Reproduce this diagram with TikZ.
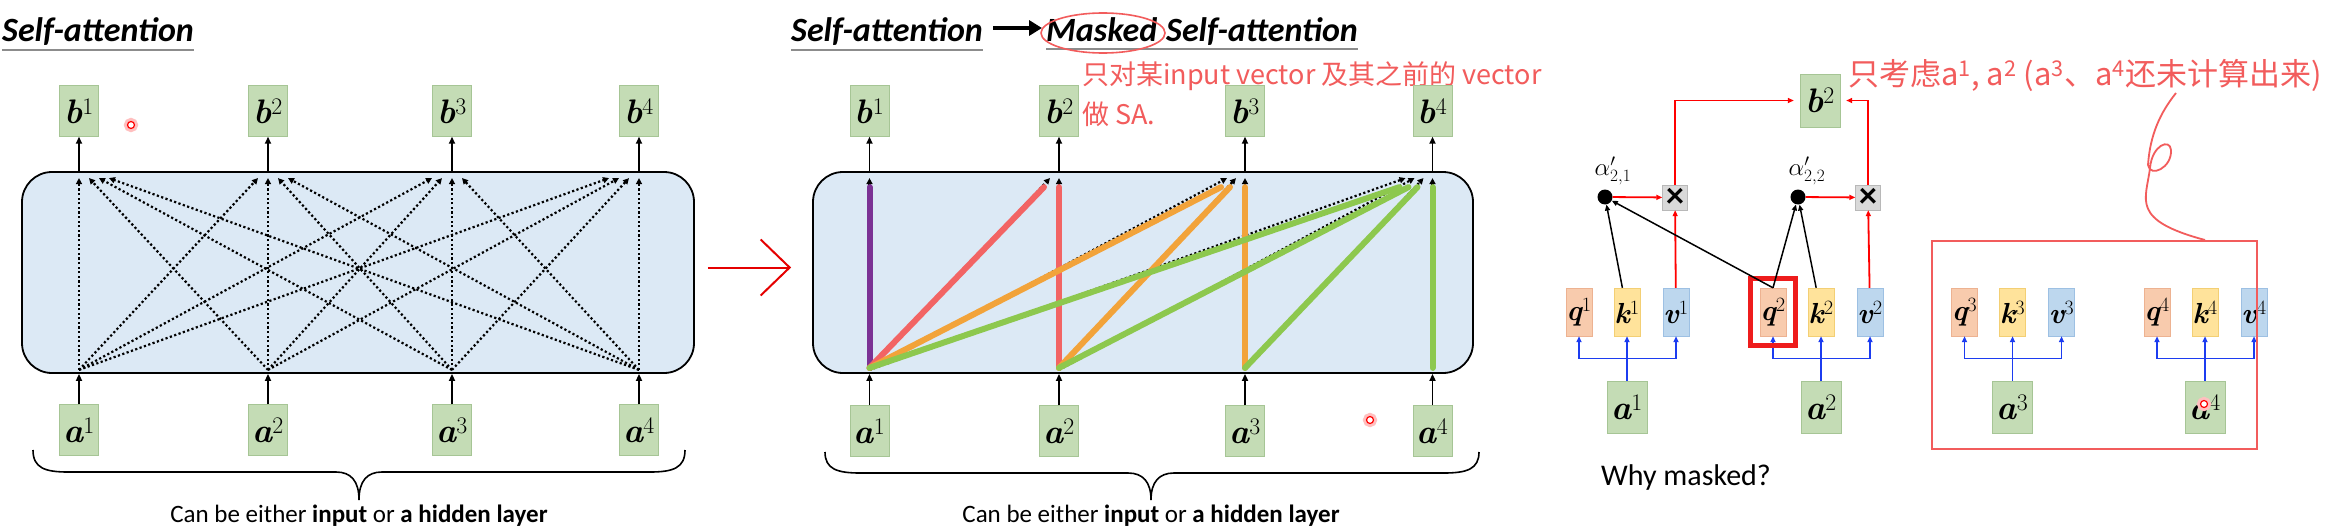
\documentclass[tikz,border=0pt]{standalone}
\usepackage{fontspec}
\setmainfont{Carlito}
\newfontfamily\lmr{Latin Modern Roman}
\newfontfamily\cjk{Noto Sans CJK SC}
\newcommand{\vname}[2]{{\lmr\bfseries\itshape #1}\textsuperscript{\lmr #2}}
\usetikzlibrary{positioning,arrows.meta,fit,calc}
\definecolor{vecgreen}{HTML}{C4DCB5}
\definecolor{vecedge}{HTML}{A6C595}
\definecolor{layerfill}{HTML}{DCE9F5}
\definecolor{qfill}{HTML}{F8CBAD}
\definecolor{qedge}{HTML}{EDB291}
\definecolor{kfill}{HTML}{FFE39B}
\definecolor{kedge}{HTML}{F3CF74}
\definecolor{vfill}{HTML}{BDD7EE}
\definecolor{vedge}{HTML}{9DC0E3}
\definecolor{mulgray}{HTML}{D9D9D9}
\definecolor{pen}{HTML}{F25C5C}
\definecolor{hotred}{HTML}{EE1C1C}
\definecolor{wireblue}{HTML}{1C3CF0}
\definecolor{attnpurple}{HTML}{7B3294}
\definecolor{attnred}{HTML}{F26464}
\definecolor{attnorange}{HTML}{F2A33A}
\definecolor{attngreen}{HTML}{8DC84E}

\begin{document}
\begin{tikzpicture}[x=1pt, y=-1pt,
    >={Triangle[length=7pt,width=6pt]},
    vec/.style={draw=vecedge, fill=vecgreen, minimum width=39pt, minimum height=51pt,
                inner sep=0pt, font=\fontsize{34}{36}\selectfont},
    qkv/.style={draw=#1edge, fill=#1fill, minimum width=26pt, minimum height=48pt,
                inner sep=0pt, font=\fontsize{29}{30}\selectfont},
    layerbox/.style={draw, line width=1.8pt, fill=layerfill, rounded corners=30pt,
                  minimum height=201pt},
    heading/.style={font=\fontsize{34}{38}\selectfont\bfseries\itshape, inner sep=0pt},
    headrule/.style={draw=black!45, line width=1.5pt},
    feed/.style={->, line width=1.8pt},
    attn/.style={->, line width=2.2pt, dash pattern=on 2.2pt off 2.4pt,
                 >={Triangle[length=6pt,width=6pt]}},
    masked/.style={line width=6pt, line cap=round, draw=#1},
    wire/.style={draw=wireblue, line width=1.8pt, >={Triangle[length=6pt,width=5pt]}},
    redwire/.style={draw=red, line width=1.8pt, >={Triangle[length=6pt,width=5pt]}},
    scorearrow/.style={draw=black, line width=1.5pt, >={Triangle[length=6pt,width=5pt]}},
    scoredot/.style={circle, fill=black, minimum size=15pt, inner sep=0pt},
    mul/.style={draw=mulgray!85!black, fill=mulgray, minimum size=25pt, inner sep=0pt,
                font=\fontsize{36}{36}\selectfont\bfseries},
    penote/.style={text=pen, font=\cjk\fontsize{27}{40}\selectfont, inner sep=0pt, align=left},
    captext/.style={font=\fontsize{25}{28}\selectfont, inner sep=0pt},
    alphatext/.style={font=\fontsize{26}{28}\selectfont, inner sep=0pt},
    pointer/.style={circle, draw=red, line width=1.2pt, fill=white, minimum size=7pt,
                    inner sep=0pt, preaction={draw=red!25, line width=7pt}},
  ]
  \path[use as bounding box, fill=white] (0,0) rectangle (2327,530);

  % ---------- left: self-attention ----------
  \node[heading, anchor=base west] (titleL) at (2,41) {Self-attention};
  \draw[headrule] ([yshift=-9pt]titleL.base west) -- ([yshift=-9pt]titleL.base east);
  \node[layerbox, minimum width=672pt] (layL) at (358,272.5) {};
  \foreach \i/\x in {1/79,2/268,3/452,4/639}{
    \node[vec] (bL\i) at (\x,111) {\vname{b}{\i}};
    \node[vec] (aL\i) at (\x,430) {\vname{a}{\i}};
    \draw[feed] (aL\i) -- (aL\i |- layL.south);
    \draw[feed] (bL\i |- layL.north) -- (bL\i);
    \coordinate (srcL\i) at ([yshift=4pt]aL\i |- layL.south);
    \coordinate (tgtL\i) at ([yshift=-7pt]bL\i |- layL.north);
  }
  \foreach \i in {1,...,4}
    \foreach \j in {1,...,4}{
      \pgfmathsetmacro\off{(\i-\j)*10}
      \draw[attn] (srcL\i) -- ([xshift=\off pt]tgtL\j);
    }
  \draw[line width=1.6pt] (33,450) .. controls (33,468) and (45,472) .. (68,472) -- (336,472)
    .. controls (351,472) and (359,481) .. (359,500) .. controls (359,481) and (367,472) .. (382,472)
    -- (650,472) .. controls (673,472) and (685,468) .. (685,450);
  \node[captext] (capL) at (359,516) {Can be either \textbf{input} or \textbf{a hidden layer}};
  \node[pointer] (dotL) at (131,125) {};

  % ---------- middle: masked self-attention ----------
  \node[heading, anchor=base west] (titleM) at (791,41) {Self-attention};
  \draw[headrule] ([yshift=-9pt]titleM.base west) -- ([yshift=-9pt]titleM.base east);
  \node[heading, anchor=base west] (maskedM) at (1046,41) {Masked};
  \node[heading, anchor=base west] (saM) at (1166,41) {Self-attention};
  \draw[headrule] ([yshift=-8pt]maskedM.base west) -- ([yshift=-8pt]saM.base east);
  \draw[line width=4pt, -{Triangle[length=13pt,width=15pt]}]
    ([xshift=10pt,yshift=13pt]titleM.base east) -- ([xshift=-4pt,yshift=13pt]maskedM.base west);
  \draw[pen, line width=1.6pt] (1103,33) ellipse [x radius=62pt, y radius=20pt];
  \node[penote, anchor=north west] (noteM) at (1082,61) {只对某input vector 及其之前的 vector\\做 SA.};

  \node[layerbox, minimum width=660pt] (layM) at (1143,272.5) {};
  \foreach \i/\x in {1/869.5,2/1059,3/1245,4/1432.5}{
    \node[vec] (bM\i) at (\x,111) {\vname{b}{\i}};
    \node[vec] (aM\i) at (\x,431) {\vname{a}{\i}};
    \draw[feed] (aM\i) -- (aM\i |- layM.south);
    \draw[feed] (bM\i |- layM.north) -- (bM\i);
    \coordinate (srcM\i) at ([yshift=4pt]aM\i |- layM.south);
    \coordinate (tgtM\i) at ([yshift=-7pt]bM\i |- layM.north);
  }
  \foreach \j in {1,...,4}
    \foreach \i in {1,...,\j}{
      \pgfmathsetmacro\off{(\i-\j)*9}
      \draw[attn] (srcM\i) -- ([xshift=\off pt]tgtM\j);
    }
  % only earlier inputs reach each output
  \foreach \j/\c in {1/attnpurple,2/attnred,3/attnorange,4/attngreen}
    \foreach \i in {1,...,\j}{
      \pgfmathsetmacro\off{(\i-\j)*9-(\i<\j)*6}
      \draw[masked=\c] ([yshift=2pt]srcM\i) -- ([xshift=\off pt,yshift=-9pt]tgtM\j);
    }
  \draw[line width=1.6pt] (825,452) .. controls (825,469) and (837,473) .. (860,473) -- (1128,473)
    .. controls (1143,473) and (1151,482) .. (1151,500) .. controls (1151,482) and (1159,473) .. (1174,473)
    -- (1444,473) .. controls (1467,473) and (1479,469) .. (1479,452);
  \node[captext] (capM) at (1151,516) {Can be either \textbf{input} or \textbf{a hidden layer}};
  \node[pointer] (dotM) at (1370,420) {};

  % hand-drawn arrow to the masked version
  \draw[draw=red!90!black, line width=2pt, -{Straight Barb[length=29pt,width=56pt]}]
    ([xshift=13pt,yshift=5pt]layL.east) -- ([xshift=-21pt,yshift=5pt]layM.west);

  % ---------- right: computing b2 only ----------
  \foreach \n/\x in {1/1579,2/1773,3/1964.5,4/2157}{
    \node[qkv=q] (q\n) at (\x,312) {\vname{q}{\n}};
    \node[qkv=k] (k\n) at (\x+48,312) {\vname{k}{\n}};
    \node[qkv=v] (v\n) at (\x+97,312) {\vname{v}{\n}};
    \node[vec, minimum width=40pt, minimum height=52pt] (aR\n) at (\x+48,407) {\vname{a}{\n}};
    \coordinate (bus\n) at ($(k\n.south)!0.5!(aR\n.north)$);
    \draw[wire, ->] (aR\n) -- (k\n);
    \draw[wire, ->] (bus\n) -| (q\n);
    \draw[wire, ->] (bus\n) -| (v\n);
  }
  \node[draw=hotred, line width=5pt, fit=(q2), inner sep=9pt] (pick) {};
  \node[vec, minimum width=40pt, minimum height=53pt] (bR) at (1820,100.5) {\vname{b}{2}};
  \node[scoredot] (w21) at (1605,197) {};
  \node[scoredot] (w22) at (1798,197) {};
  \node[alphatext] (lab21) at (1613,171) {$\alpha'_{2,1}$};
  \node[alphatext] (lab22) at (1807,171) {$\alpha'_{2,2}$};
  \node[mul] (x1) at (1675,197.5) {×};
  \node[mul] (x2) at (1868,197.5) {×};
  \draw[redwire, ->] (w21) -- (x1);
  \draw[redwire, ->] (w22) -- (x2);
  \draw[redwire, ->] (v1) -- (x1);
  \draw[redwire, ->] (v2) -- (x2);
  \draw[redwire, ->, shorten >=6pt] (x1) |- (bR);
  \draw[redwire, ->, shorten >=6pt] (x2) |- (bR);
  \draw[scorearrow, ->] (k1) -- (w21);
  \draw[scorearrow, ->] (q2.north) -- (w21);
  \draw[scorearrow, ->] (q2.north) -- (w22);
  \draw[scorearrow, ->] (k2) -- (w22);
  \node[draw=pen, line width=2pt, minimum width=325pt, minimum height=208pt, inner sep=0pt]
    (later) at (2094.5,345) {};
  \node[penote, font=\cjk\fontsize{31}{34}\selectfont, anchor=west] (noteR) at (1848,75)
    {只考虑a\textsuperscript{1}, a\textsuperscript{2} (a\textsuperscript{3}、a\textsuperscript{4}还未计算出来)};
  \draw[pen, line width=1.8pt] (2176,93) .. controls (2160,113) and (2150,135) .. (2148,165)
    .. controls (2150,178) and (2172,168) .. (2171,150)
    .. controls (2170,138) and (2152,145) .. (2150,168)
    .. controls (2146,200) and (2130,220) .. (later.north -| bus4);
  \node[font=\fontsize{30}{32}\selectfont, inner sep=0pt] (why) at (1686,477) {Why masked?};
  \node[pointer] (dotR) at (2204,404) {};
\end{tikzpicture}
\end{document}
